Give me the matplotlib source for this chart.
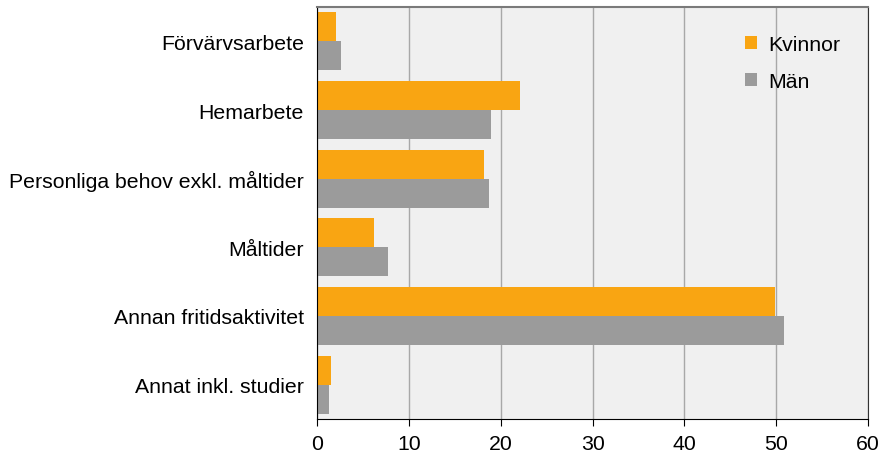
import matplotlib.pyplot as plt
import numpy as np

plt.rcParams['font.family'] = ['Liberation Sans', 'DejaVu Sans']

categories = ["Förvärvsarbete", "Hemarbete", "Personliga behov exkl. måltider",
              "Måltider", "Annan fritidsaktivitet", "Annat inkl. studier"]
kvinnor = [2.1, 22.1, 18.2, 6.2, 49.9, 1.5]
man = [2.6, 18.9, 18.7, 7.7, 50.8, 1.3]
xticks = [0, 10, 20, 30, 40, 50, 60]

orange = "#F9A512"
grey = "#9B9B9B"

fig = plt.figure(figsize=(8.88, 4.56), dpi=100)
ax = fig.add_axes([317 / 888, 36 / 456, 551 / 888, 412 / 456])
ax.set_facecolor("#F0F0F0")

y = np.arange(len(categories))
h = 0.42
ax.barh(y - h / 2, kvinnor, height=h, color=orange, label="Kvinnor", zorder=2)
ax.barh(y + h / 2, man, height=h, color=grey, label="Män", zorder=2)

ax.set_ylim(len(categories) - 0.5, -0.5)
ax.set_xlim(0, 60)
ax.set_xticks(xticks)
ax.set_yticks(y)
ax.set_yticklabels(categories)
ax.tick_params(axis="y", length=0, pad=9.5, labelsize=15.3)
ax.tick_params(axis="x", length=5, direction="out", pad=5.5, labelsize=15.3, color="black")
ax.xaxis.grid(True, color="#A8A8A8", linewidth=1, zorder=1)
ax.set_axisbelow(True)

ax.spines["left"].set_color("black")
ax.spines["bottom"].set_color("black")
ax.spines["top"].set_color("#7A7A7A")
ax.spines["top"].set_linewidth(1.5)
ax.spines["right"].set_color("#333333")

leg = ax.legend(loc="upper right", frameon=False, fontsize=15.3, handlelength=0.55,
                handleheight=0.55, handletextpad=0.55, labelspacing=0.85,
                bbox_to_anchor=(0.985, 0.978))

fig.savefig("out.png", dpi=100)
